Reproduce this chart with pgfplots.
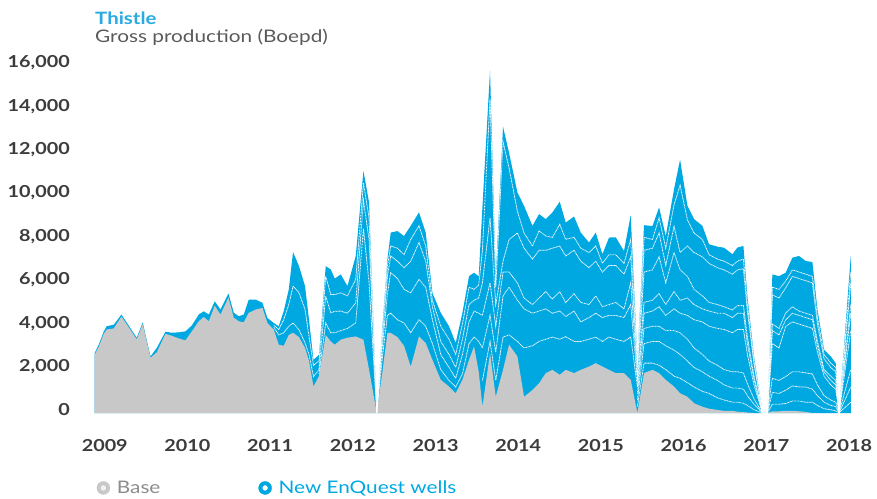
\documentclass[border=0pt]{standalone}
\usepackage{pgfplots}
\usepackage{pgfplotstable}
\pgfplotsset{compat=1.18}
\usepackage{fontspec}
\setmainfont{Lato}[FakeStretch=1.2]
\definecolor{wellblue}{RGB}{0,168,225}
\definecolor{basegrey}{RGB}{200,200,200}
\definecolor{titleblue}{RGB}{41,170,224}
\definecolor{ticktext}{RGB}{60,60,60}
\definecolor{subgrey}{RGB}{90,90,90}
\definecolor{legendgrey}{RGB}{140,140,140}

\pgfplotstableread{
x total base l1 l2 l3 l4 l5 l6 l7 l8
2008.879 2770 2700 nan nan nan nan nan nan nan nan
2008.927 3150 3050 nan nan nan nan nan nan nan nan
2008.988 3760 3650 nan nan nan nan nan nan nan nan
2009.024 4000 3850 nan nan nan nan nan nan nan nan
2009.109 4070 3900 nan nan nan nan nan nan nan nan
2009.202 4540 4450 nan nan nan nan nan nan nan nan
2009.387 3470 3400 nan nan nan nan nan nan nan nan
2009.459 4180 4100 nan nan nan nan nan nan nan nan
2009.553 2610 2550 nan nan nan nan nan nan nan nan
2009.629 3000 2800 nan nan nan nan nan nan nan nan
2009.734 3750 3650 nan nan nan nan nan nan nan nan
2009.810 3700 3560 nan nan nan nan nan nan nan nan
2009.895 3720 3440 nan nan nan nan nan nan nan nan
2009.976 3765 3350 nan nan nan nan nan nan nan nan
2010.052 4030 3760 nan nan nan nan nan nan nan nan
2010.137 4540 4230 nan nan nan nan nan nan nan nan
2010.197 4690 4430 nan nan nan nan nan nan nan nan
2010.258 4540 4230 nan nan nan nan nan nan nan nan
2010.330 5150 4950 nan nan nan nan nan nan nan nan
2010.399 4770 4540 nan nan nan nan nan nan nan nan
2010.496 5510 5320 nan nan nan nan nan nan nan nan
2010.560 4630 4400 nan nan nan nan nan nan nan nan
2010.620 4460 4230 nan nan nan nan nan nan nan nan
2010.681 4540 4180 nan nan nan nan nan nan nan nan
2010.741 5230 4620 nan nan nan nan nan nan nan nan
2010.826 5230 4770 nan nan nan nan nan nan nan nan
2010.907 5080 4850 nan nan nan nan nan nan nan nan
2010.967 4380 4150 nan nan nan nan nan nan nan nan
2011.044 4150 3840 nan nan nan nan nan nan 3950 4050
2011.104 4000 3150 nan nan nan nan nan nan 3600 3850
2011.164 4690 3100 nan nan nan nan nan nan 3700 4300
2011.225 5690 3600 nan nan nan nan nan nan 4000 5000
2011.277 7420 3700 nan nan nan nan nan nan 4150 5850
2011.349 6770 3500 nan nan nan nan nan nan 3840 5550
2011.422 5850 3000 nan nan nan nan nan nan 3230 4770
2011.470 4300 2400 nan nan nan nan nan nan 2700 3530
2011.524 2450 1220 nan nan nan nan nan nan 1680 2200
2011.591 2690 1700 nan nan nan nan nan 1800 2000 2400
2011.672 6770 3600 nan nan nan nan nan 4150 5390 6310
2011.733 6620 3300 nan nan nan nan nan 3700 4620 5460
2011.781 6200 3150 nan nan nan nan nan 3700 4690 5460
2011.854 6390 3380 nan nan nan nan nan 3800 4700 5540
2011.935 5850 3470 nan nan nan nan nan 3900 4600 5400
2012.035 7240 3530 nan nan nan nan nan 4150 5080 6160
2012.128 11170 3380 nan nan nan nan nan 8500 9800 10600
2012.196 9710 2000 nan nan nan nan nan 6000 8000 9000
2012.289 0 0 nan nan nan nan 0 0 0 0
2012.358 4000 1910 nan nan nan nan 2600 3100 3500 3800
2012.418 7080 3690 nan nan nan nan 4500 5500 6300 6800
2012.458 8320 3690 nan nan nan nan 4600 6470 7240 7700
2012.539 8390 3500 nan nan nan nan 4300 6200 7000 7600
2012.619 8160 3100 nan nan nan nan 4150 5700 6700 7300
2012.700 8630 2140 nan nan nan nan 3700 5540 7000 8000
2012.800 9250 3530 nan nan nan nan 4300 6160 7860 8630
2012.881 8320 3230 nan nan nan nan 4000 5800 7000 7700
2012.962 5540 2450 nan nan nan nan 3200 4300 4900 5200
2013.063 4620 1530 nan nan nan nan 2000 2700 3300 4000
2013.163 4000 1220 nan nan nan nan 1500 2100 2700 3400
2013.244 3230 910 nan nan nan nan 1200 1600 2100 2700
2013.325 4620 1530 nan nan nan nan 1800 2700 3400 4100
2013.405 6310 2450 nan nan nan nan 3200 4200 5000 5800
2013.466 6470 3070 nan nan nan nan 3500 4700 5200 5700
2013.522 6300 1900 nan nan nan nan 3300 4600 5300 5900
2013.567 9500 290 nan nan nan 1500 3000 4500 6000 7500
2013.659 15790 2760 nan nan nan 3300 4500 6000 9000 14500
2013.728 6300 750 nan nan nan 1500 2800 4000 5000 5800
2013.816 13200 1990 nan nan nan 3500 5400 6500 7000 12500
2013.889 12000 3150 nan nan nan 3600 5800 6500 8000 11300
2013.990 10170 2610 nan nan nan 3300 5200 6000 8300 9300
2014.070 9550 750 nan nan nan 3000 4800 5300 7600 8300
2014.172 8630 1060 nan nan nan 3100 4600 5000 7100 7700
2014.252 9170 1370 nan nan nan 3300 4700 5300 7500 8400
2014.333 8940 1840 nan nan nan 3400 4800 5600 7500 8160
2014.413 9250 1990 nan nan nan 3500 4600 5250 7600 8100
2014.502 9740 1760 nan nan nan 3400 4700 5600 7700 8700
2014.574 8780 1990 nan nan nan 3520 4450 5090 7240 8010
2014.675 9060 1840 nan nan nan 3300 4700 5500 7500 8100
2014.756 8320 1990 nan nan nan 3300 4200 5100 7000 7600
2014.856 7860 2140 nan nan nan 3400 4400 5000 6700 7400
2014.937 8320 2300 nan nan nan 3500 4600 5400 7000 7700
2015.018 7320 2140 nan nan nan 3300 4400 4900 6500 6900
2015.098 8090 1990 nan nan nan 3500 4500 5000 6800 7300
2015.179 8100 1840 nan nan nan 3400 4500 5100 6800 7300
2015.279 7470 1840 nan nan nan 3300 4400 4800 6400 6900
2015.360 9120 1530 nan nan nan 3500 5000 6000 7200 8000
2015.441 2450 0 300 600 900 1200 1500 1800 2100 2300
2015.521 8660 1840 2300 3200 3900 4600 5100 6500 7500 8100
2015.623 8620 1990 2300 3300 4000 4700 5200 6600 7600 8000
2015.703 9480 1840 2200 3300 4000 4900 5500 7200 8300 9000
2015.784 8160 1530 2000 3100 3800 4500 5000 6000 6800 7600
2015.884 10320 1220 1700 2900 3800 4800 5600 7400 8600 9600
2015.957 11680 910 1600 2700 3700 4600 5200 6600 7400 10500
2016.046 9550 750 1400 2400 3400 4500 5300 6300 7700 8900
2016.126 8940 450 1200 2100 3000 4300 5000 5700 7400 8300
2016.227 8630 290 1000 1900 2700 4200 4800 5400 7200 8000
2016.307 7780 200 900 1700 2400 4000 4700 5100 6900 7300
2016.409 7670 140 700 1500 2200 3900 4600 5000 6700 7100
2016.489 7620 100 600 1300 2000 3850 4600 4900 6600 7000
2016.590 7320 100 500 1150 1900 3700 4400 4750 6400 6800
2016.651 7630 60 500 1150 1900 3850 4600 4950 6600 7000
2016.723 7700 40 450 1100 1850 3850 4600 4950 6650 7100
2016.771 5390 20 350 800 1350 2700 3200 3500 4700 5000
2016.851 2610 0 150 400 650 1300 1550 1700 2250 2400
2016.953 60 0 0 0 0 0 0 0 0 0
2017.013 0 0 0 0 0 0 0 0 0 0
2017.073 6390 80 400 950 1600 3200 3800 4100 5450 5800
2017.153 6310 80 400 900 1500 3000 3600 3900 5300 5700
2017.234 6470 100 440 1050 1680 3990 4300 4610 5770 6080
2017.315 7160 100 550 1250 1900 4200 4600 4900 6300 6600
2017.395 7240 80 550 1200 1900 4100 4500 4700 6200 6500
2017.476 7010 50 500 1200 1850 4000 4400 4600 6100 6400
2017.557 6960 0 500 1100 1800 3900 4300 4500 6000 6300
2017.618 4770 0 350 800 1300 2800 3100 3300 4100 4400
2017.698 2920 0 200 500 800 1700 1900 2000 2500 2700
2017.779 2610 0 150 350 600 1300 1500 1700 2100 2300
2017.839 2300 0 100 300 500 1100 1300 1500 1900 2100
2017.879 0 0 0 0 0 0 0 0 0 0
2018.021 7240 0 500 1200 2000 3800 4600 5000 6000 6500
}\data

\begin{document}
\begin{tikzpicture}[x=1pt,y=1pt]
\useasboundingbox (-94,-85) rectangle (783,413);
\begin{axis}[
  at={(0,0)}, anchor=south west,
  scale only axis, width=757.5pt, height=347pt,
  xmin=2008.87, xmax=2018.03, ymin=0, ymax=16000,
  axis line style={draw=none},
  major tick length=0pt,
  xtick={2009,2010,2011,2012,2013,2014,2015,2016,2017,2018},
  xticklabels={2009,2010,2011,2012,2013,2014,2015,2016,2017,2018},
  ytick={0,2000,4000,6000,8000,10000,12000,14000,16000},
  scaled y ticks=false,
  /pgf/number format/1000 sep={,},
  /pgf/number format/assume math mode=true,
  tick label style={font=\fontsize{16.5}{18}\selectfont\bfseries, text=ticktext},
  yticklabel style={anchor=east, inner sep=0pt, xshift=-24pt, yshift=3pt},
  xticklabel style={anchor=north, inner sep=0pt, yshift=-26pt},
  unbounded coords=jump,
  legend columns=2,
  legend style={at={(0.0033,-0.216)}, anchor=west, draw=none, fill=none,
    inner sep=0pt, font=\fontsize{17.3}{20}\selectfont,
    /tikz/every even column/.append style={column sep=96pt}},
]
\addplot[draw=none, fill=wellblue, forget plot] table[x=x, y=total] {\data} \closedcycle;
\addplot[draw=none, fill=basegrey, forget plot] table[x=x, y=base] {\data} \closedcycle;
\pgfplotsinvokeforeach{1,...,8}{
  \addplot[white, line width=0.8pt, dash pattern=on 0.9pt off 0.6pt, forget plot] table[x=x, y=l#1] {\data};
}
\addlegendimage{legend image code/.code={\path[draw=none,fill=none] (0pt,-1pt) rectangle (18pt,1pt); \fill[basegrey] (6.5pt,0pt) circle (6.5pt); \fill[white,opacity=0.75] (6.5pt,0pt) circle (2.4pt);}}
\addlegendentry{\textcolor{legendgrey}{Base}}
\addlegendimage{legend image code/.code={\path[draw=none,fill=none] (0pt,-1pt) rectangle (18pt,1pt); \fill[wellblue] (6.5pt,0pt) circle (6.5pt); \fill[white] (6.5pt,0pt) circle (2.4pt);}}
\addlegendentry{\textcolor{wellblue}{New EnQuest wells}}
\end{axis}
\node[anchor=base west, inner sep=0pt, font=\fontsize{17}{20}\selectfont\bfseries, text=titleblue] at (1,388) {Thistle};
\node[anchor=base west, inner sep=0pt, font=\fontsize{17.3}{20}\selectfont, text=subgrey] at (1,370) {Gross production (Boepd)};
\end{tikzpicture}
\end{document}
